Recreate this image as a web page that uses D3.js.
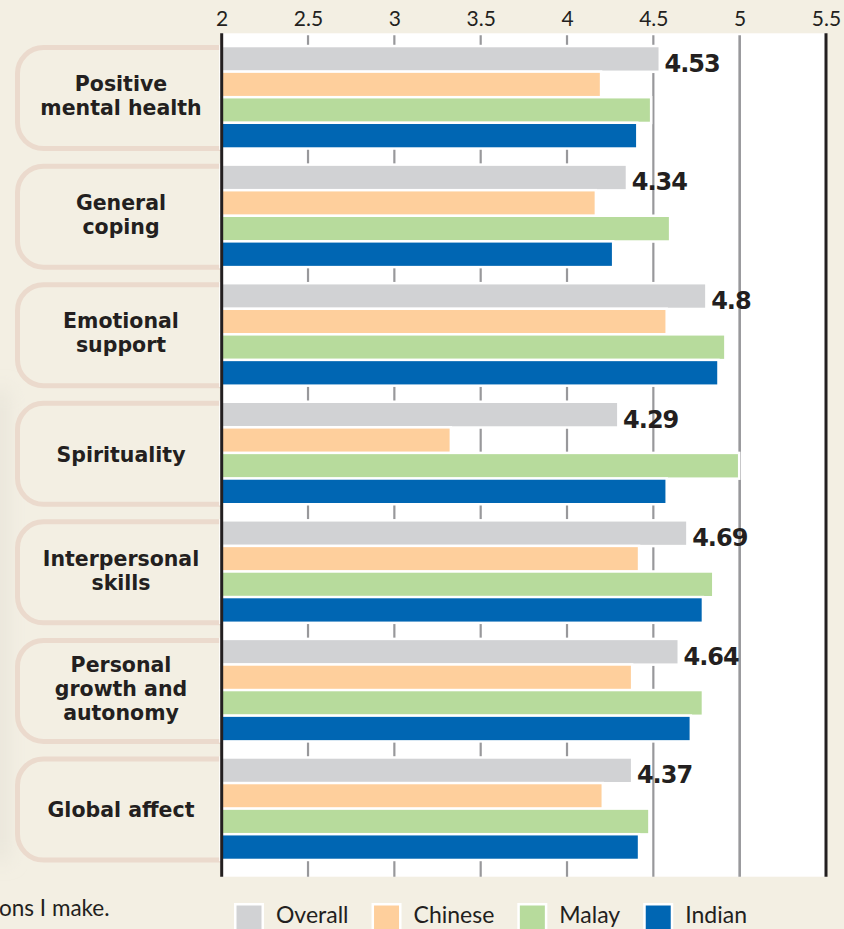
<!DOCTYPE html>
<html>
<head>
<meta charset="utf-8">
<script src="https://cdn.jsdelivr.net/npm/d3@7"></script>
<style>
  html, body { margin: 0; padding: 0; background: #f3efe3; overflow: hidden; }
  svg { display: block; }
</style>
</head>
<body>
<div id="viz"></div>
<script>
// data
const categoryLines = [
  ["Positive", "mental health"],
  ["General", "coping"],
  ["Emotional", "support"],
  ["Spirituality"],
  ["Interpersonal", "skills"],
  ["Personal", "growth and", "autonomy"],
  ["Global affect"]
]
const seriesNames = ["Overall", "Chinese", "Malay", "Indian"]
const overall = [4.53, 4.34, 4.8, 4.29, 4.69, 4.64, 4.37]
const chinese = [4.19, 4.16, 4.57, 3.32, 4.41, 4.37, 4.20]
const malay   = [4.48, 4.59, 4.91, 4.99, 4.84, 4.78, 4.47]
const indian  = [4.40, 4.26, 4.87, 4.57, 4.78, 4.71, 4.41]
const xTicks = [2, 2.5, 3, 3.5, 4, 4.5, 5, 5.5]
const footnote = "ons I make."

const seriesValues = [overall, chinese, malay, indian]
const colors = ["#d1d2d4", "#fecf9c", "#b7db9c", "#0066b3"]

const width = 844, height = 929
const plot = { left: 221.7, right: 826, top: 33.3, bottom: 876.7 }

const svg = d3.select("#viz").append("svg")
  .attr("width", width)
  .attr("height", height)

// page shading at the left edge
const defs = svg.append("defs")
const grad = defs.append("linearGradient").attr("id", "edge")
grad.append("stop").attr("offset", "0%").attr("stop-color", "#c9c6bd").attr("stop-opacity", 0.6)
grad.append("stop").attr("offset", "100%").attr("stop-color", "#f3efe3").attr("stop-opacity", 0)
defs.append("filter").attr("id", "soft")
  .attr("x", "-50%").attr("y", "-10%").attr("width", "200%").attr("height", "120%")
  .append("feGaussianBlur").attr("stdDeviation", 10)

svg.append("rect")
  .attr("width", width).attr("height", height)
  .attr("fill", "#f3efe3")
svg.append("rect")
  .attr("x", -6).attr("y", 390).attr("width", 22).attr("height", 470)
  .attr("fill", "url(#edge)")
  .attr("filter", "url(#soft)")

// scales
const x = d3.scaleLinear().domain([2, 5.5]).range([plot.left, plot.right])
const rows = d3.range(categoryLines.length)
const y0 = d3.scaleBand().domain(rows).range([38, 868]).paddingInner(0.1566).paddingOuter(0.0783)
const y1 = d3.scaleBand().domain(seriesNames).range([0, y0.bandwidth()]).paddingInner(0.09)

// rounded label boxes
const labels = svg.append("g").selectAll("g").data(rows).join("g")
labels.append("rect")
  .attr("x", 17.5)
  .attr("y", d => y0(d) + 0.3)
  .attr("width", 260)
  .attr("height", y0.bandwidth() + 1)
  .attr("rx", 26).attr("ry", 26)
  .attr("fill", "#f3efe3")
  .attr("stroke", "#ebdacd")
  .attr("stroke-width", 5)

labels.append("text")
  .attr("text-anchor", "middle")
  .attr("font-family", "DejaVu Sans")
  .attr("font-weight", "bold")
  .attr("font-size", 20.5)
  .attr("fill", "#231f20")
  .each(function (d) {
    const lines = categoryLines[d]
    const mid = y0(d) + y0.bandwidth() / 2 + (lines.length === 1 ? 8.5 : 6)
    d3.select(this).selectAll("tspan").data(lines).join("tspan")
      .attr("x", 121)
      .attr("y", (l, i) => mid + (i - (lines.length - 1) / 2) * 24)
      .text(l => l)
  })

// plot background
svg.append("rect")
  .attr("x", plot.left).attr("y", plot.top)
  .attr("width", plot.right - plot.left)
  .attr("height", plot.bottom - plot.top)
  .attr("fill", "#fff")

// grid lines
svg.append("g").selectAll("line")
  .data(xTicks.filter(t => t > 2 && t < 5.5))
  .join("line")
  .attr("x1", d => x(d)).attr("x2", d => x(d))
  .attr("y1", plot.top + 2).attr("y2", plot.bottom)
  .attr("stroke", "#98989b")
  .attr("stroke-width", d => d === 5 ? 2.6 : 2.2)

// bars
const groups = svg.append("g").selectAll("g").data(rows).join("g")
  .attr("transform", d => `translate(0,${y0(d)})`)
groups.selectAll("rect")
  .data(d => seriesNames.map((s, j) => ({ s, j, v: seriesValues[j][d] })))
  .join("rect")
  .attr("x", x(2))
  .attr("y", d => y1(d.s))
  .attr("width", d => x(d.v) - x(2))
  .attr("height", y1.bandwidth())
  .attr("fill", d => colors[d.j])
  .attr("stroke", "#fff")
  .attr("stroke-width", 5)
  .attr("paint-order", "stroke")

// value labels for the overall bars
groups.append("text")
  .attr("x", d => x(overall[d]) + 6)
  .attr("y", y1("Overall") + y1.bandwidth() / 2 + 13)
  .attr("font-family", "DejaVu Sans")
  .attr("font-weight", "bold")
  .attr("font-size", 24)
  .attr("letter-spacing", -1)
  .attr("fill", "#231f20")
  .text(d => overall[d])

// axis border lines
svg.append("g").selectAll("line")
  .data([2, 5.5])
  .join("line")
  .attr("x1", d => x(d)).attr("x2", d => x(d))
  .attr("y1", plot.top).attr("y2", plot.bottom)
  .attr("stroke", "#231f20")
  .attr("stroke-width", 3)

// top axis labels
const axis = d3.axisTop(x).tickValues(xTicks).tickSize(0).tickPadding(0)
  .tickFormat(d3.format("~g"))
const axisG = svg.append("g").attr("transform", "translate(0,25.5)").call(axis)
axisG.select(".domain").remove()
axisG.selectAll("text")
  .attr("dy", 0)
  .attr("font-family", "Lato")
  .attr("font-size", 21)
  .attr("fill", "#231f20")

// footnote fragment
svg.append("text")
  .attr("x", -1).attr("y", 916)
  .attr("font-family", "Lato")
  .attr("font-size", 22.5)
  .attr("fill", "#231f20")
  .text(footnote)

// legend
const legend = svg.append("g")
let lx = 234
seriesNames.forEach((name, j) => {
  legend.append("rect")
    .attr("x", lx + 1.25).attr("y", 904.25)
    .attr("width", 27.5).attr("height", 27.5)
    .attr("fill", colors[j])
    .attr("stroke", "#fff")
    .attr("stroke-width", 2.5)
  const t = legend.append("text")
    .attr("x", lx + 42).attr("y", 923.3)
    .attr("font-family", "Lato")
    .attr("font-size", 23)
    .attr("fill", "#231f20")
    .text(name)
  lx = lx + 42 + t.node().getComputedTextLength() + 23
})
</script>
</body>
</html>
